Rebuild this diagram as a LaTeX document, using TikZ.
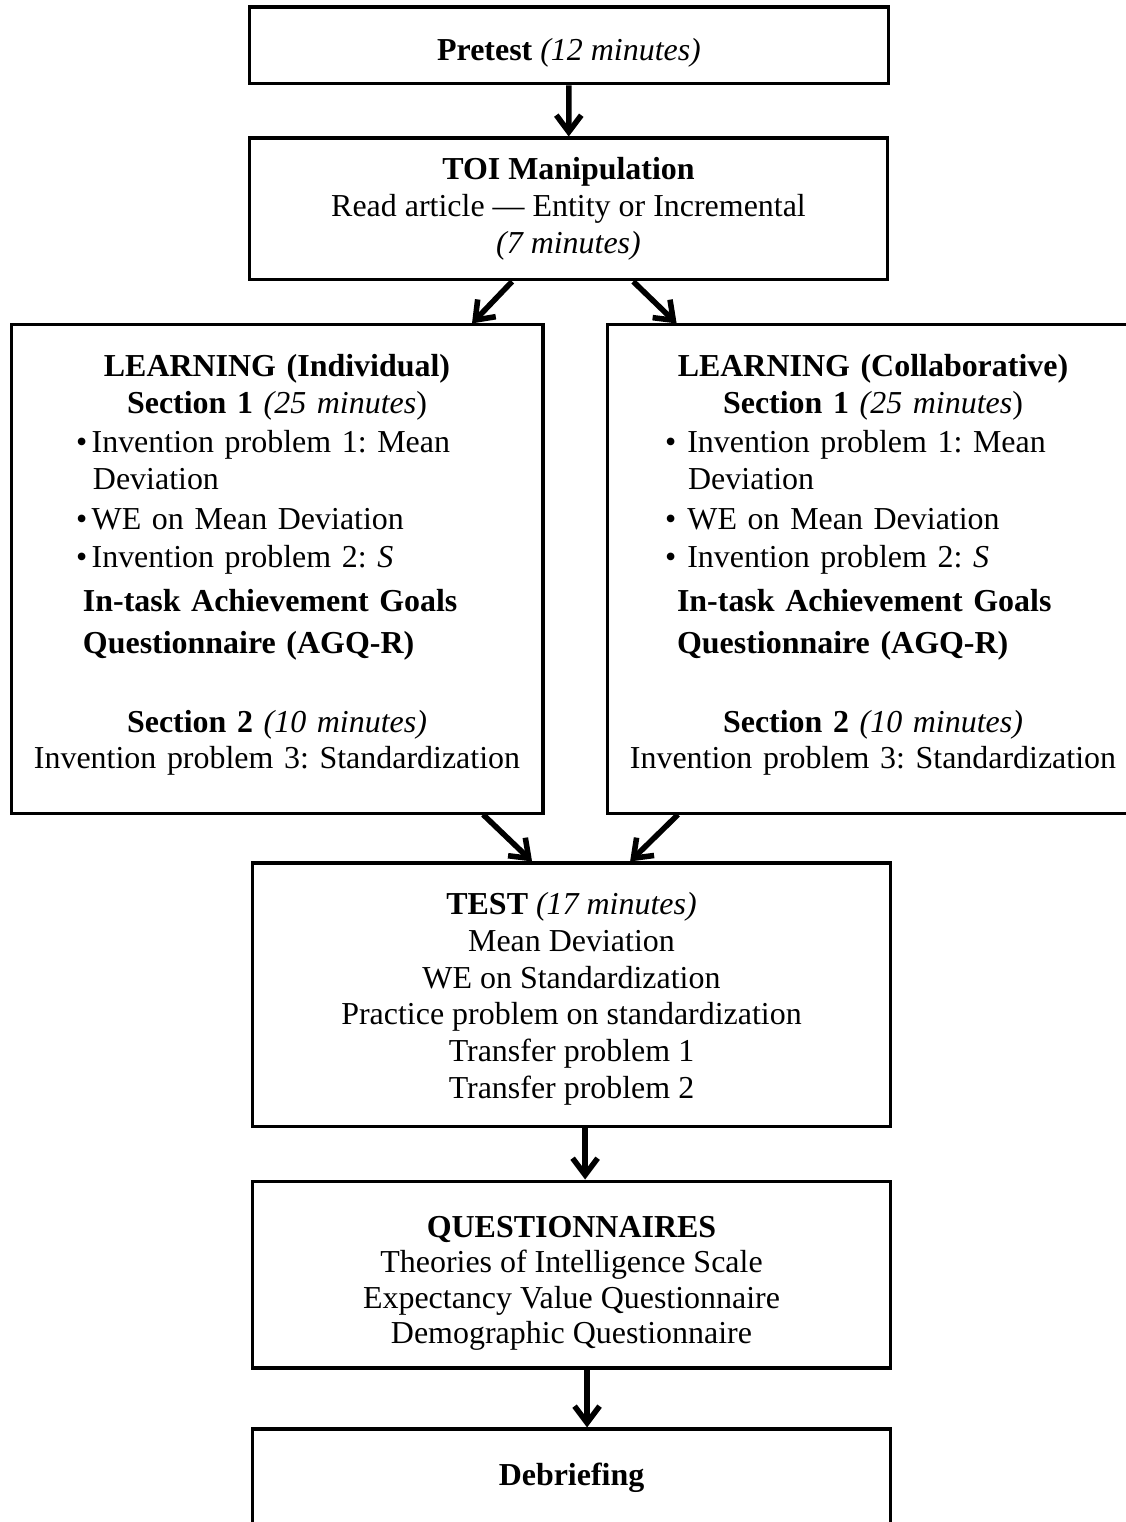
\documentclass[tikz,border=0pt]{standalone}
\usepackage{fontspec}
\setmainfont{Liberation Serif}
\usetikzlibrary{arrows.meta}

\newcommand{\lline}[2]{\makebox[\linewidth][l]{\hspace{#1}#2}}

\begin{document}
\frenchspacing
\begin{tikzpicture}[x=0.36pt,y=-0.36pt,>={Straight Barb[length=6pt,width=9pt]},
box/.style={draw,line width=1.1pt,inner sep=0pt,align=center,font=\fontsize{11.5pt}{13.3pt}\selectfont},
wide/.style={box,minimum width=230pt},
learn/.style={box,minimum width=191.5pt,minimum height=175.7pt,text width=191.5pt},
flow/.style={->,line width=2pt}]

\useasboundingbox (0,0) rectangle (1125,1522);

\node[wide,minimum height=27.7pt] (pre) at (569,45.5) {\rule{0pt}{13.2pt}\textbf{Pretest} \textit{(12 minutes)}};
\node[wide,minimum height=51.1pt] (toi) at (568.5,209) {\textbf{TOI Manipulation}\\ Read article \textemdash{} Entity or Incremental\\ \textit{(7 minutes)}};

% the two learning conditions
\node[learn] (indiv) at (277,569) {\textbf{LEARNING (Individual)}\\
\textbf{Section 1} \textit{(25 minutes})\\[0.7pt]
\lline{23.4pt}{\textbullet\hspace{1.6pt}Invention problem 1: Mean}\\
\lline{29.5pt}{Deviation}\\[1.1pt]
\lline{23.4pt}{\textbullet\hspace{1.6pt}WE on Mean Deviation}\\[0.4pt]
\lline{23.4pt}{\textbullet\hspace{1.6pt}Invention problem 2: \textit{S}}\\[2.5pt]
\lline{25.9pt}{\textbf{In-task Achievement Goals}}\\[1.8pt]
\lline{25.9pt}{\textbf{Questionnaire (AGQ-R)}}\\[15.1pt]
\textbf{Section 2} \textit{(10 minutes)}\\
Invention problem 3: Standardization\rule[-5.3pt]{0pt}{5.3pt}};
\node[learn] (collab) at (873,569) {\textbf{LEARNING (Collaborative)}\\
\textbf{Section 1} \textit{(25 minutes})\\[0.7pt]
\lline{20.9pt}{\textbullet\hspace{4pt}Invention problem 1: Mean}\\
\lline{29.2pt}{Deviation}\\[1.1pt]
\lline{20.9pt}{\textbullet\hspace{4pt}WE on Mean Deviation}\\[0.4pt]
\lline{20.9pt}{\textbullet\hspace{4pt}Invention problem 2: \textit{S}}\\[2.5pt]
\lline{25.2pt}{\textbf{In-task Achievement Goals}}\\[1.8pt]
\lline{25.2pt}{\textbf{Questionnaire (AGQ-R)}}\\[15.1pt]
\textbf{Section 2} \textit{(10 minutes)}\\
Invention problem 3: Standardization\rule[-5.3pt]{0pt}{5.3pt}};

\node[wide,minimum height=94.7pt] (test) at (571.5,994.5) {\rule{0pt}{11.1pt}\textbf{TEST} \textit{(17 minutes)}\\ Mean Deviation\\ WE on Standardization\\ Practice problem on standardization\\ Transfer problem 1\\ Transfer problem 2};
\node[wide,minimum height=67.3pt] (quest) at (571.5,1274.5) {\rule{0pt}{13.9pt}\textbf{QUESTIONNAIRES}\\[-0.5pt] Theories of Intelligence Scale\\[-0.5pt] Expectancy Value Questionnaire\\[-0.5pt] Demographic Questionnaire};
\node[wide,minimum height=35.3pt] (debrief) at (571.5,1478) {\textbf{Debriefing}};

\draw[flow] (pre) -- (toi);
\draw[flow] ([xshift=-20.3pt]toi.south) -- ([xshift=70.2pt]indiv.north);
\draw[flow] ([xshift=23.3pt]toi.south) -- ([xshift=-70.7pt]collab.north);
\draw[flow] ([xshift=74.2pt]indiv.south) -- ([xshift=-14.2pt]test.north);
\draw[flow] ([xshift=-70.2pt]collab.south) -- ([xshift=21.1pt]test.north);
\draw[flow] ([xshift=4.9pt]test.south) -- ([xshift=4.9pt]quest.north);
\draw[flow] ([xshift=5.6pt]quest.south) -- ([xshift=5.6pt]debrief.north);
\end{tikzpicture}
\end{document}
